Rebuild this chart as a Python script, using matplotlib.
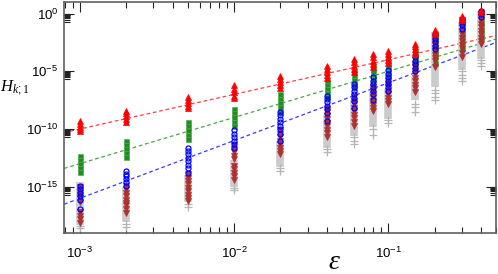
import numpy as np
import matplotlib
matplotlib.use("Agg")
import matplotlib.pyplot as plt
from matplotlib.ticker import FixedLocator, FuncFormatter, LogLocator, NullFormatter

plt.rcParams['font.family'] = ['Liberation Sans', 'DejaVu Sans']
plt.rcParams['mathtext.fontset'] = 'custom'
plt.rcParams['mathtext.rm'] = 'Liberation Sans'
plt.rcParams['mathtext.it'] = 'Liberation Serif:italic'
plt.rcParams['mathtext.sf'] = 'Liberation Serif'
plt.rcParams['axes.unicode_minus'] = False

# epsilon values (x positions of the columns)
eps = [1e-3, 2e-3, 5e-3, 1e-2, 2e-2, 4e-2, 6e-2, 8e-2, 0.1, 0.15, 0.2, 0.3, 0.4]

# log10 values of H_{k;1}, per column
red_k1 = [
    [-9.3, -9.55, -9.8, -10.0, -10.2],
    [-8.4, -8.65, -8.9, -9.15, -9.35],
    [-7.25, -7.5, -7.75, -8.0, -8.2],
    [-6.2, -6.5, -6.8, -7.1, -7.35],
    [-5.4, -5.7, -5.95, -6.2, -6.45],
    [-4.5, -4.8, -5.1, -5.35, -5.6],
    [-3.9, -4.2, -4.5, -4.8, -5.05],
    [-3.5, -3.8, -4.1, -4.35, -4.6],
    [-3.2, -3.5, -3.8, -4.05, -4.3],
    [-2.6, -2.85, -3.1, -3.3, -3.5],
    [-1.4, -1.6, -1.8],
    [-0.2, -0.4, -0.6],
    [0.35, 0.15],
]
green_k2 = [
    [-12.3, -12.65, -13.0, -13.35, -13.7],
    [-11.0, -11.35, -11.7, -12.05, -12.4],
    [-9.4, -9.75, -10.1, -10.5, -10.85],
    [-8.25, -8.6, -8.95, -9.35, -9.7],
    [-7.0, -7.4, -7.75, -8.1, -8.5],
    [-5.8, -6.15, -6.5, -6.9, -7.25],
    [-5.1, -5.4, -5.75, -6.1, -6.4],
    [-4.5, -4.8, -5.1, -5.4, -5.65],
    [-4.2, -4.5, -4.8, -5.1, -5.4],
    [-3.2, -3.5, -3.8, -4.1, -4.35],
    [-1.7, -2.2, -2.7, -3.2, -3.7, -4.3],
    [-0.6, -1.2, -1.8, -2.4, -3.0],
    [0.25, -0.3, -0.9, -1.5, -2.05],
]
blue_k3 = [
    [-14.9, -15.2, -15.5, -15.8, -16.1, -16.9],
    [-13.6, -13.85, -14.1, -14.35, -14.6, -14.9],
    [-11.6, -11.9, -12.2, -12.5, -12.8, -13.1, -13.4, -13.8],
    [-10.1, -10.4, -10.7, -11.0, -11.3, -11.6],
    [-8.5, -8.8, -9.1, -9.4, -9.7, -10.0, -10.4, -11.0],
    [-7.1, -7.4, -7.7, -8.0, -8.3, -8.6, -9.3],
    [-6.1, -6.4, -6.7, -7.0, -7.3, -7.6, -8.2],
    [-5.5, -5.8, -6.1, -6.4, -6.7, -7.0, -7.5],
    [-4.9, -5.2, -5.5, -5.8, -6.1, -6.4, -6.7],
    [-3.8, -4.1, -4.4, -4.7, -5.0],
    [-1.9, -2.2, -2.5, -2.8, -3.05],
    [-0.45, -0.7, -1.0, -1.3],
    [0.2, -0.05, -0.3],
]
brown_k4 = [
    [-15.0, -15.25, -15.5, -15.75, -16.0, -16.3, -17.2, -17.5, -17.8, -18.1],
    [-14.9, -15.2, -15.5, -15.8, -16.1, -16.4, -16.6, -16.95, -17.3],
    [-13.9, -14.2, -14.5, -14.8, -15.1, -15.4, -15.7, -16.0, -16.2],
    [-11.4, -11.7, -12.0, -12.3, -12.6, -13.2, -13.5, -13.8, -14.1, -14.4],
    [-10.1, -10.4, -10.7, -11.0, -11.3, -11.6, -11.9, -12.15],
    [-8.25, -8.55, -8.85, -9.15, -9.45, -9.75, -10.05, -10.35, -10.7],
    [-7.25, -7.55, -7.85, -8.15, -8.45, -8.75, -9.05, -9.35, -9.7],
    [-6.4, -6.7, -7.0, -7.3, -7.6, -7.9, -8.15, -8.4],
    [-5.8, -6.1, -6.4, -6.7, -7.0, -7.3, -7.55, -7.8],
    [-4.35, -4.65, -4.95, -5.25, -5.55, -5.85, -6.15, -6.45, -6.8],
    [-2.05, -2.35, -2.65, -2.95, -3.25, -3.55, -3.85, -4.15, -4.65],
    [-0.6, -0.9, -1.2, -1.5, -1.8, -2.1, -2.4, -2.7, -3.0, -3.4, -3.8],
    [0.0, -0.3, -0.6, -0.9, -1.2, -1.5, -1.8, -2.1, -2.35, -2.6],
]
# grey (higher k): dense band top/bottom and separate '+' points below
grey_top = [-14.6, -15.0, -14.0, -12.7, -11.0, -8.8, -7.5, -6.8, -6.5, -5.5, -1.6, -0.75, 0.26]
grey_bot = [-18.3, -18.05, -16.3, -15.0, -13.3, -11.6, -10.6, -9.85, -9.1, -7.5, -6.4, -4.9, -3.9]
grey_plus = [
    [-18.4, -18.6],
    [-18.2, -18.45],
    [-16.45, -16.75],
    [-15.1, -15.3],
    [-13.35, -13.6],
    [-11.7, -12.0],
    [-10.7, -11.0, -11.3],
    [-10.0, -10.5],
    [-9.2, -9.5],
    [-7.8, -8.1, -8.5],
    [-6.6, -6.9, -7.2, -7.5],
    [-5.0, -5.3, -5.6, -5.8],
    [-4.0, -4.25, -4.5],
]
# reference power laws  C * eps**p
line_coef = [0.1, 0.1, 0.1]
line_pow = [3, 4, 5]
line_col = ['#ff4040', '#4aa64a', '#3a3aff']

xlim = (7.9e-4, 0.5)
ylim = (1e-19, 1e1)

fig = plt.figure(figsize=(4.98, 2.74), dpi=100)
ax = fig.add_axes([64/498, 41/274, 432/498, 231/274])
ax.set_xscale('log')
ax.set_yscale('log')

xx = np.logspace(np.log10(xlim[0]), np.log10(xlim[1]), 200)
for c, p, col in zip(line_coef, line_pow, line_col):
    ax.plot(xx, c * xx**p, ls=(0, (3, 2.2)), color=col, lw=0.9, zorder=1)

def column_points(groups):
    xs, ys = [], []
    for e, g in zip(eps, groups):
        for v in g:
            xs.append(e)
            ys.append(10.0**v)
    return xs, ys

# grey band + crosses
ax.vlines(eps, [10.0**v for v in grey_bot], [10.0**v for v in grey_top],
          colors='#cbcbcb', lw=5.5, zorder=2)
gx, gy = column_points(grey_plus)
ax.plot(gx, gy, ls='none', marker='+', ms=5.5, mew=0.9, color='#b5b5b5', zorder=2)

x, y = column_points(green_k2)
ax.plot(x, y, ls='none', marker='s', ms=3.6, mfc='#228b22', mec='#4fb04f', mew=0.5, zorder=3)
x, y = column_points(brown_k4)
ax.plot(x, y, ls='none', marker='v', ms=4.0, mfc='#b03030', mec='#b03030', mew=0.5, zorder=4)
x, y = column_points(blue_k3)
ax.plot(x, y, ls='none', marker='o', ms=3.6, mfc='none', mec='#0000ff', mew=0.9, zorder=5)
x, y = column_points(red_k1)
ax.plot(x, y, ls='none', marker='^', ms=4.3, mfc='#ff0000', mec='#ff0000', mew=0.5, zorder=6)

ax.set_xlim(*xlim)
ax.set_ylim(*ylim)

ymaj = [1e0, 1e-5, 1e-10, 1e-15]
ax.yaxis.set_major_locator(FixedLocator(ymaj))
ax.yaxis.set_minor_locator(FixedLocator([m * y0 / 10 for y0 in ymaj for m in range(2, 10)]))
ax.yaxis.set_minor_formatter(NullFormatter())
ax.xaxis.set_major_locator(LogLocator(base=10, numticks=10))
ax.xaxis.set_minor_locator(LogLocator(base=10, subs=np.arange(2, 10), numticks=20))
ax.xaxis.set_minor_formatter(NullFormatter())

fmt = FuncFormatter(lambda v, pos: r'$\mathdefault{10^{%d}}$' % int(round(np.log10(v))))
ax.xaxis.set_major_formatter(fmt)
ax.yaxis.set_major_formatter(fmt)

ax.tick_params(which='both', direction='in', top=True, right=True, colors='#222222',
               labelcolor='black', labelsize=9.5, width=0.8)
ax.tick_params(which='major', length=7)
ax.tick_params(which='minor', length=4)
ax.tick_params(axis='x', pad=9)
ax.tick_params(axis='y', pad=4)
for s in ax.spines.values():
    s.set_color('#606060')
    s.set_linewidth(1.2)

ax.set_xlabel(r'$\varepsilon$', fontsize=20, va='center')
ax.xaxis.set_label_coords(0.627, -0.125)
ax.set_ylabel(r'$H_{k;\mathsf{1}}$', fontsize=12, rotation=0, va='center', ha='center')
ax.yaxis.set_label_coords(-0.113, 0.628)

fig.savefig('out.png', dpi=100)
